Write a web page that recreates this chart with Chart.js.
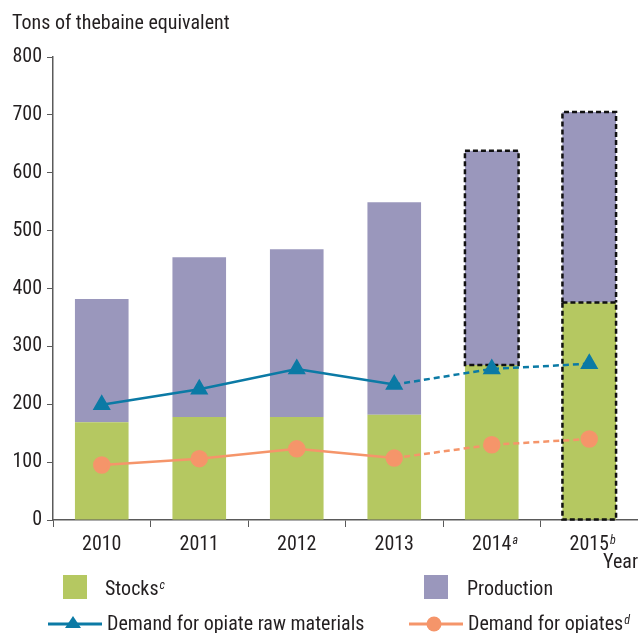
<!DOCTYPE html>
<html><head><meta charset="utf-8">
<script src="https://cdn.jsdelivr.net/npm/chart.js@4"></script>
<style>
html,body{margin:0;padding:0;background:#fff;}
#wrap{position:relative;width:638px;height:633px;overflow:hidden;font-family:'Roboto Condensed','Liberation Sans Narrow',sans-serif;color:#231f20;}
#c{position:absolute;left:0;top:0;}
.t{position:absolute;font-size:20px;white-space:nowrap;line-height:20px;}
.t sup{font-size:12px;font-style:italic;vertical-align:top;position:relative;top:-3px;margin-left:1px;}
.box{position:absolute;width:24px;height:24px;}
.mk{position:absolute;}
</style></head><body>
<div id="wrap">
<canvas id="c" width="638" height="633"></canvas>
<div class="t" style="left:12px;top:12px;">Tons of thebaine equivalent</div>
<div class="box" style="left:63px;top:575px;background:#b5c861;"></div>
<div class="t" style="left:105px;top:578px;">Stocks<sup>c</sup></div>
<div class="box" style="left:424px;top:575px;background:#9a97bc;"></div>
<div class="t" style="left:467px;top:578px;">Production</div>
<svg class="mk" style="left:46px;top:612px;" width="58" height="22">
  <line x1="2" y1="12" x2="56" y2="12" stroke="#0b7aa5" stroke-width="3"/>
  <polygon points="27,4 35,16 19,16" fill="#0b7aa5"/>
</svg>
<div class="t" style="left:107px;top:613px;">Demand for opiate raw materials</div>
<svg class="mk" style="left:407px;top:612px;" width="58" height="22">
  <line x1="2" y1="12" x2="56" y2="12" stroke="#f5956a" stroke-width="3"/>
  <circle cx="27" cy="12" r="7.5" fill="#f5956a"/>
</svg>
<div class="t" style="left:468px;top:613px;">Demand for opiates<sup>d</sup></div>
</div>
<script>
const categories = ['2010','2011','2012','2013','2014','2015'];
const footnotes = ['','','','','a','b'];
const stocks = [169,178,178,182,268,376];
const production = [213,276,290,367,370,329];
const rawDemand = [199,226,261,234,261,270];
const opiateDemand = [95,106,123,107,130,140];
const dashedStocks = [false,false,false,false,false,true];
const dashedProduction = [false,false,false,false,true,true];
const firstProjected = 4;
const yTicks = [0,100,200,300,400,500,600,700,800];

const FONT = "'Roboto Condensed','Liberation Sans Narrow',sans-serif";
const AXIS = '#5a5a5a';

const dashedRects = {
  id:'dashedRects',
  afterDatasetDraw(chart,args){
    if(args.index!==0) return;
    const ctx=chart.ctx;
    ctx.save();
    ctx.setLineDash([5,3]);
    ctx.lineWidth=2.5;
    ctx.strokeStyle='#111';
    const sMeta=chart.getDatasetMeta(0), pMeta=chart.getDatasetMeta(1);
    categories.forEach((c,i)=>{
      if(dashedStocks[i]){
        const el=sMeta.data[i];
        const l=el.x-el.width/2, t=Math.min(el.y,el.base), b=Math.max(el.y,el.base);
        ctx.strokeRect(l,t,el.width,b-t);
      }
      if(dashedProduction[i]){
        const el=pMeta.data[i];
        const l=el.x-el.width/2, r=el.x+el.width/2, t=Math.min(el.y,el.base), b=Math.max(el.y,el.base);
        ctx.beginPath();
        if(dashedStocks[i]){
          ctx.moveTo(l,b); ctx.lineTo(l,t); ctx.lineTo(r,t); ctx.lineTo(r,b);
        } else {
          ctx.rect(l,t,el.width,b-t);
        }
        ctx.stroke();
      }
    });
    ctx.restore();
  }
};
const superscripts = {
  id:'superscripts',
  afterDraw(chart){
    const xs=chart.scales.x, ctx=chart.ctx;
    ctx.save();
    footnotes.forEach((f,i)=>{
      if(!f) return;
      ctx.font="20px "+FONT;
      const w=ctx.measureText(categories[i]).width;
      const x=xs.getPixelForValue(i)+w/2+1;
      ctx.font="italic 12px "+FONT;
      ctx.fillStyle='#231f20';
      ctx.textBaseline='top';
      ctx.textAlign='left';
      ctx.fillText(f,x,xs.top+15);
    });
    ctx.restore();
  }
};

new Chart(document.getElementById('c'),{
  data:{
    labels:categories,
    datasets:[
      {type:'bar',label:'Stocks',data:stocks,backgroundColor:'#b5c861',stack:'s',order:2,barPercentage:0.55,categoryPercentage:1},
      {type:'bar',label:'Production',data:production,backgroundColor:'#9a97bc',stack:'s',order:3,barPercentage:0.55,categoryPercentage:1},
      {type:'line',label:'Demand for opiate raw materials',data:rawDemand,stack:'l1',borderColor:'#0b7aa5',backgroundColor:'#0b7aa5',borderWidth:2.5,pointStyle:'triangle',pointRadius:8,pointHoverRadius:8,order:1,
        segment:{borderDash:c=>c.p1DataIndex>=firstProjected?[6,4]:undefined}},
      {type:'line',label:'Demand for opiates',data:opiateDemand,stack:'l2',borderColor:'#f5956a',backgroundColor:'#f5956a',borderWidth:2.5,pointStyle:'circle',pointRadius:7.5,pointHoverRadius:7.5,order:0,
        segment:{borderDash:c=>c.p1DataIndex>=firstProjected?[6,4]:undefined}}
    ]
  },
  options:{
    responsive:false,
    animation:false,
    layout:{autoPadding:false,padding:{top:57,left:0,right:0,bottom:58}},
    plugins:{legend:{display:false},tooltip:{enabled:false}},
    scales:{
      x:{
        stacked:true,
        grid:{display:true,drawOnChartArea:false,drawTicks:true,tickLength:7,color:AXIS,offset:true},
        border:{display:true,color:AXIS,width:1.5},
        ticks:{font:{family:FONT,size:20},color:'#231f20',padding:6,maxRotation:0},
        title:{display:true,text:'Year',align:'end',font:{family:FONT,size:20},color:'#231f20',padding:{top:0,bottom:0}},
        afterFit(s){s.height=55;s.paddingLeft=0;s.paddingRight=0;}
      },
      y:{
        stacked:true,min:0,max:800,
        afterBuildTicks(s){s.ticks=yTicks.map(v=>({value:v}));},
        grid:{display:true,drawOnChartArea:false,drawTicks:true,tickLength:6,color:AXIS},
        border:{display:true,color:AXIS,width:1.5},
        ticks:{font:{family:FONT,size:20},color:'#231f20',padding:5},
        afterFit(s){s.width=53;s.paddingTop=0;s.paddingBottom=0;}
      }
    }
  },
  plugins:[dashedRects,superscripts]
});
</script>
</body></html>
